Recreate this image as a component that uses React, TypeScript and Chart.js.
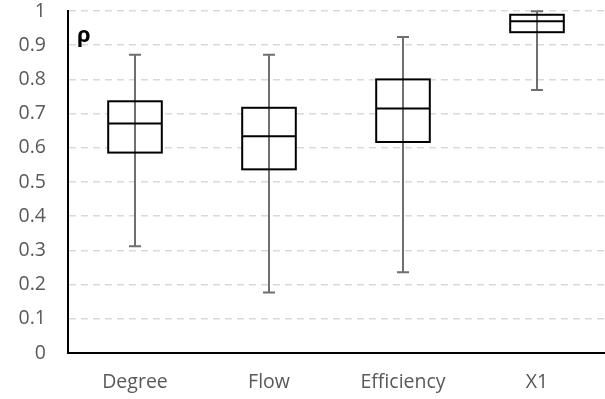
import React, { useEffect, useRef } from "react";
import { Chart, registerables } from "chart.js";

Chart.register(...registerables);

const categories = ["Degree", "Flow", "Efficiency", "X1"];
const mins = [0.312, 0.177, 0.236, 0.769];
const q1s = [0.586, 0.537, 0.617, 0.938];
const medians = [0.671, 0.634, 0.715, 0.970];
const q3s = [0.736, 0.717, 0.800, 0.989];
const maxs = [0.872, 0.872, 0.924, 0.999];
const yTicks = [0, 0.1, 0.2, 0.3, 0.4, 0.5, 0.6, 0.7, 0.8, 0.9, 1];
const axisLabel = "ρ";

const FONT = "'Open Sans', 'DejaVu Sans', sans-serif";

const boxPlugin = {
  id: "boxWhiskers",
  afterDatasetsDraw(chart: any) {
    const { ctx, scales } = chart;
    const y = scales.y;
    const meta = chart.getDatasetMeta(0);
    ctx.save();
    meta.data.forEach((bar: any, i: number) => {
      const x = bar.x;
      const w = bar.width;
      const left = x - w / 2;
      const top = y.getPixelForValue(q3s[i]);
      const bottom = y.getPixelForValue(q1s[i]);
      const yMin = y.getPixelForValue(mins[i]);
      const yMax = y.getPixelForValue(maxs[i]);
      const yMed = y.getPixelForValue(medians[i]);
      ctx.strokeStyle = "#6f6f6f";
      ctx.lineWidth = 2;
      ctx.beginPath();
      ctx.moveTo(x, yMin);
      ctx.lineTo(x, yMax);
      ctx.moveTo(x - 6, yMin);
      ctx.lineTo(x + 6, yMin);
      ctx.moveTo(x - 6, yMax);
      ctx.lineTo(x + 6, yMax);
      ctx.stroke();
      ctx.strokeStyle = "#000000";
      ctx.lineWidth = 2;
      ctx.strokeRect(left, top, w, bottom - top);
      ctx.beginPath();
      ctx.moveTo(left, yMed);
      ctx.lineTo(left + w, yMed);
      ctx.stroke();
    });
    ctx.fillStyle = "#000000";
    ctx.font = "bold 22px " + FONT;
    ctx.textAlign = "left";
    ctx.textBaseline = "middle";
    ctx.fillText(axisLabel, chart.chartArea.left + 9, y.getPixelForValue(0.928));
    ctx.restore();
  },
};

export default function App() {
  const ref = useRef<HTMLCanvasElement | null>(null);
  useEffect(() => {
    document.body.style.margin = "0";
    const canvas = ref.current!;
    const chart = new Chart(canvas, {
      type: "bar",
      data: {
        labels: categories,
        datasets: [
          {
            data: categories.map((_, i) => [q1s[i], q3s[i]]) as any,
            backgroundColor: "#ffffff",
            borderWidth: 0,
            barPercentage: 0.4,
            categoryPercentage: 1,
          },
        ],
      },
      options: {
        animation: false,
        responsive: false,
        layout: { padding: { top: 11, right: 1, left: 0, bottom: 0 } },
        plugins: { legend: { display: false }, tooltip: { enabled: false } },
        scales: {
          x: {
            grid: { display: false, drawTicks: false },
            border: { display: true, color: "#000000", width: 2 },
            ticks: {
              color: "#595959",
              font: { family: FONT, size: 19.5 },
              padding: 18,
            },
            afterFit: (s: any) => {
              s.height = 46;
            },
          },
          y: {
            min: 0,
            max: 1,
            afterBuildTicks: (s: any) => {
              s.ticks = yTicks.map((v) => ({ value: v }));
            },
            grid: { color: "#d9d9d9", lineWidth: 1.5, drawTicks: false },
            border: { display: true, color: "#000000", width: 2, dash: [7, 5] },
            ticks: {
              color: "#595959",
              font: { family: FONT, size: 19.5 },
              padding: 22,
              callback: (v: any) => String(Math.round(Number(v) * 10) / 10),
            },
            afterFit: (s: any) => {
              s.width = 68;
              s.paddingTop = 0;
            },
          },
        },
      },
      plugins: [boxPlugin],
    } as any);
    return () => chart.destroy();
  }, []);
  return (
    <div style={{ position: "relative", width: 605, height: 399 }}>
      <canvas ref={ref} width={605} height={399} style={{ display: "block" }} />
    </div>
  );
}
